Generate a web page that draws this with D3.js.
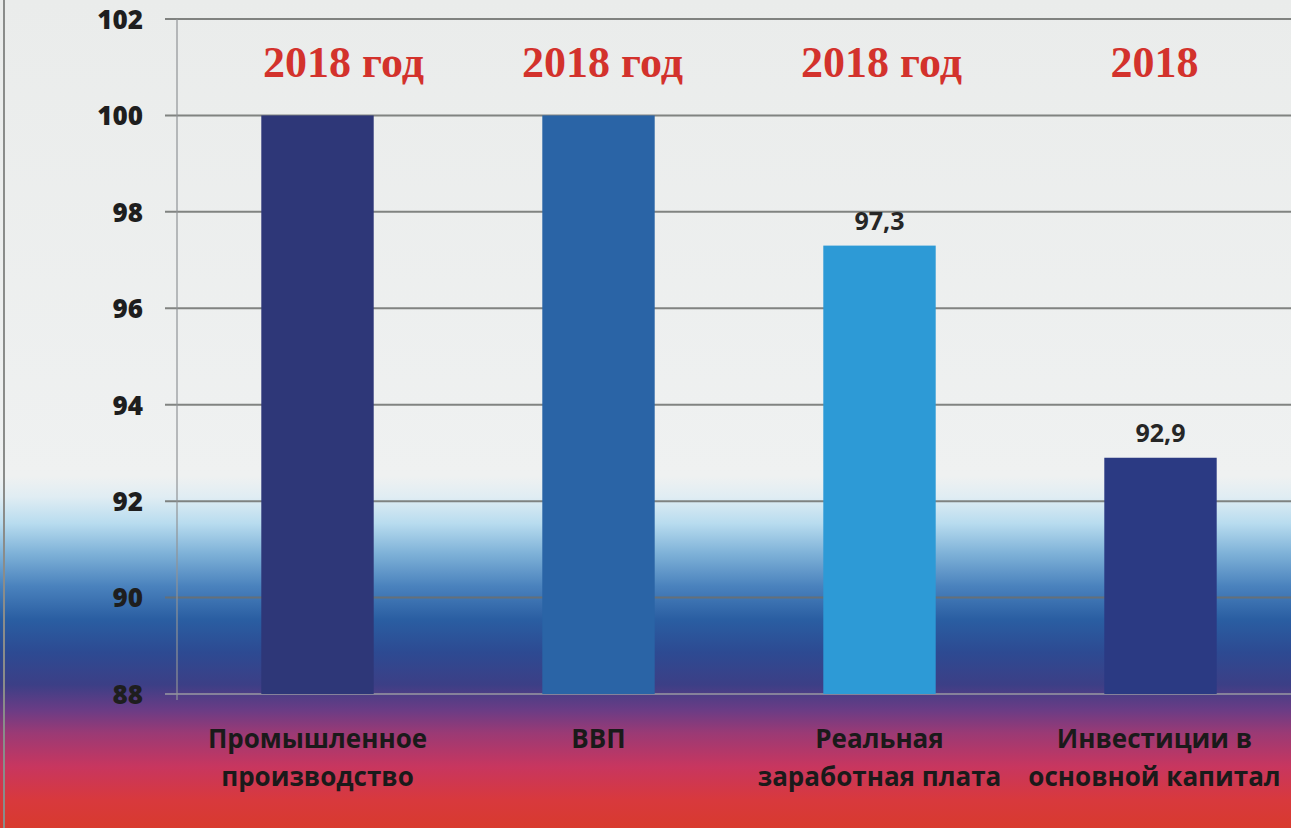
<!DOCTYPE html>
<html><head><meta charset="utf-8">
<script src="https://cdn.jsdelivr.net/npm/d3@7"></script>
<style>
html,body{margin:0;padding:0;background:#eceeec;overflow:hidden;}
svg{display:block;}
</style></head>
<body>
<svg id="chart" width="1291" height="828"></svg>
<script>
// ---- data ----
const categories = [["Промышленное","производство"],["ВВП"],["Реальная","заработная плата"],["Инвестиции в","основной капитал"]];
const values = [100, 100, 97.3, 92.9];
const valueLabels = ["", "", "97,3", "92,9"];
const yearLabels = ["2018 год","2018 год","2018 год","2018"];
const yTicks = [88, 90, 92, 94, 96, 98, 100, 102];

// ---- style / layout ----
const barColors = ["#2e3778","#2a64a6","#2d9ad6","#2b3a83"];
const yearShift = [26, 4, 2, -6];
const W = 1291, H = 828;
const svg = d3.select("#chart");

const defs = svg.append("defs");
const grad = defs.append("linearGradient").attr("id","bg").attr("x1",0).attr("y1",0).attr("x2",0).attr("y2",1);
[[0,"#eaeceb"],[0.575,"#eff1f1"],[0.6,"#e0edf3"],[0.632,"#b8dcef"],[0.668,"#7fb2d8"],[0.708,"#4a82bd"],[0.748,"#2a5ea2"],[0.788,"#2d4a92"],[0.827,"#3c3f86"],[0.858,"#6b3c85"],[0.885,"#9a3a75"],[0.926,"#c8365f"],[0.966,"#d8393d"],[1,"#d83a2e"]]
  .forEach(([o,c]) => grad.append("stop").attr("offset",o).attr("stop-color",c));
svg.append("rect").attr("width",W).attr("height",H).attr("fill","url(#bg)");
// frame border at left
svg.append("line").attr("x1",4).attr("x2",4).attr("y1",0).attr("y2",H).attr("stroke","#8a8c8a").attr("stroke-width",2);

const y = d3.scaleLinear().domain([88,102]).range([694,19]);
const x = d3.scaleBand().domain(d3.range(categories.length)).range([177,1301]).paddingInner(0.6).paddingOuter(0.3);

// gridlines
const yAxis = d3.axisLeft(y).tickValues(yTicks).tickSize(0).tickFormat(d3.format("d"));
const g = svg.append("g");
g.selectAll("line.grid").data(yTicks.filter(d=>d!==88)).join("line").attr("class","grid")
  .attr("x1",165).attr("x2",W).attr("y1",d=>y(d)).attr("y2",d=>y(d))
  .attr("stroke","#6d706d").attr("stroke-opacity",0.85).attr("stroke-width",2);
// x baseline
g.append("line").attr("x1",165).attr("x2",W).attr("y1",y(88)).attr("y2",y(88)).attr("stroke","#9a9aa2").attr("stroke-width",1.5);
// y axis line
g.append("line").attr("x1",177).attr("x2",177).attr("y1",y(102)).attr("y2",y(88)+6).attr("stroke","#8f9396").attr("stroke-width",1.2);

// y tick labels
const ya = svg.append("g").attr("transform","translate(143,0)").call(yAxis);
ya.select(".domain").remove();
ya.selectAll("text").attr("x",0).attr("dy","0.36em")
  .attr("font-family","'Open Sans', sans-serif").attr("font-weight",800).attr("font-size",26).attr("fill","#1e1e1e");

// bars
svg.selectAll("rect.bar").data(values).join("rect").attr("class","bar")
  .attr("x",(d,i)=>x(i)).attr("width",x.bandwidth())
  .attr("y",d=>y(d)).attr("height",d=>y(88)-y(d))
  .attr("fill",(d,i)=>barColors[i]);

// value labels
svg.selectAll("text.val").data(values).join("text").attr("class","val")
  .attr("x",(d,i)=>x(i)+x.bandwidth()/2).attr("y",d=>y(d)-16)
  .attr("text-anchor","middle").attr("font-family","'Open Sans', sans-serif").attr("font-weight",700)
  .attr("font-size",25).attr("fill","#262626").text((d,i)=>valueLabels[i]);

// year labels
svg.selectAll("text.year").data(yearLabels).join("text").attr("class","year")
  .attr("x",(d,i)=>x(i)+x.bandwidth()/2+yearShift[i]).attr("y",77)
  .attr("text-anchor","middle").attr("font-family","'Liberation Serif', 'Times New Roman', serif").attr("font-weight",700)
  .attr("font-size",44).attr("fill","#d3322c").text(d=>d);

// category labels
const cl = svg.selectAll("text.cat").data(categories).join("text").attr("class","cat")
  .attr("text-anchor","middle").attr("font-family","'Open Sans', sans-serif").attr("font-weight",700)
  .attr("font-size",26).attr("fill","#1a1a1a");
cl.each(function(lines,i){
  const t = d3.select(this);
  lines.forEach((ln,j)=>t.append("tspan").attr("x",x(i)+x.bandwidth()/2 - (i===3?6:0)).attr("y",748+j*38).text(ln));
});
</script>
</body></html>
